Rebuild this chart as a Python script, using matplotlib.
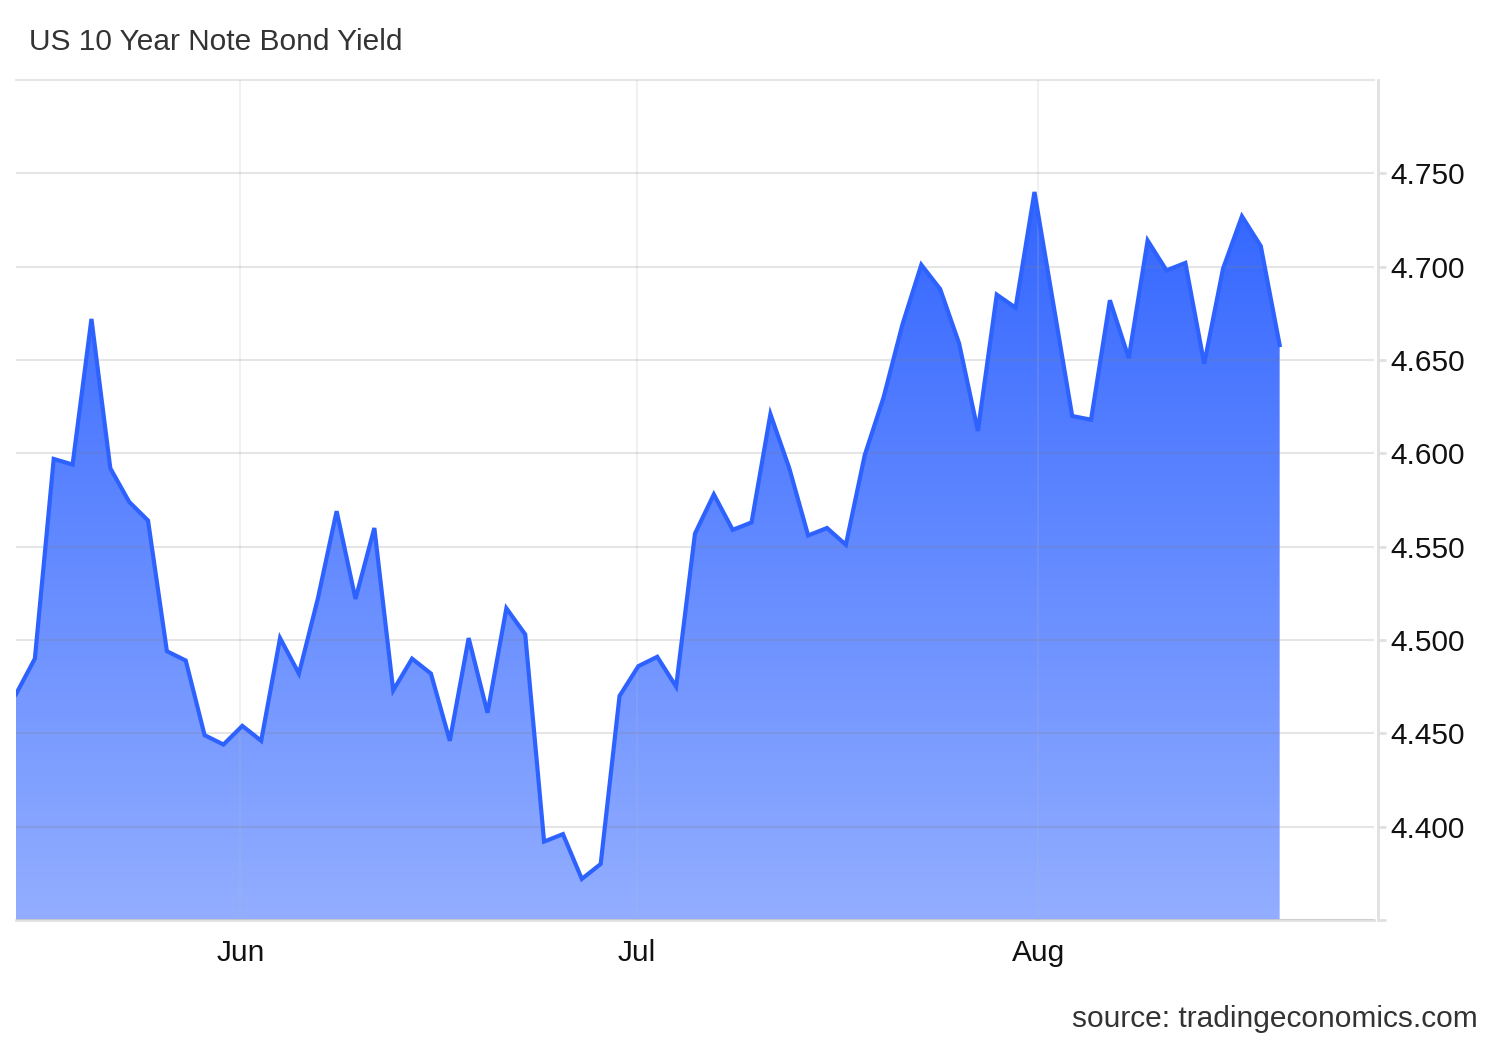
import numpy as np
import matplotlib
matplotlib.use('Agg')
import matplotlib.pyplot as plt
from matplotlib.colors import LinearSegmentedColormap

# daily yields (business days)
yields = [4.471, 4.490, 4.597, 4.594, 4.672, 4.592, 4.574, 4.564, 4.494, 4.489,
          4.449, 4.444, 4.454, 4.446, 4.501, 4.482, 4.522, 4.569, 4.522, 4.560,
          4.473, 4.490, 4.482, 4.446, 4.501, 4.461, 4.517, 4.503, 4.392, 4.396,
          4.372, 4.380, 4.470, 4.486, 4.491, 4.475, 4.557, 4.578, 4.559, 4.563,
          4.621, 4.592, 4.556, 4.560, 4.551, 4.599, 4.630, 4.669, 4.701, 4.688,
          4.659, 4.612, 4.685, 4.678, 4.740, 4.680, 4.620, 4.618, 4.682, 4.651,
          4.714, 4.698, 4.702, 4.648, 4.699, 4.727, 4.711, 4.658]
month_labels = ['Jun', 'Jul', 'Aug']
month_pos = [11.9, 32.9, 54.2]
y_ticks = [4.35, 4.40, 4.45, 4.50, 4.55, 4.60, 4.65, 4.70, 4.75]
y_labels = ['', '4.400', '4.450', '4.500', '4.550', '4.600', '4.650', '4.700', '4.750']

plt.rcParams['font.family'] = ['Liberation Sans', 'DejaVu Sans']

x = np.arange(len(yields))
y = np.array(yields)
y_min, y_max = 4.35, 4.80

fig = plt.figure(figsize=(15, 10.4), dpi=100)
ax = fig.add_axes([0.01067, 0.11538, 0.9053, 0.8077])

# gradient fill clipped to the area under the line
poly = ax.fill_between(x, y, y_min, color='none', lw=0)
cmap = LinearSegmentedColormap.from_list('g', ['#93aeff', '#3366ff'])
grad = np.linspace(0, 1, 256).reshape(-1, 1)
img = ax.imshow(grad, cmap=cmap, origin='lower', aspect='auto',
                extent=[x[0], x[-1], y_min, y.max()], zorder=1)
img.set_clip_path(poly.get_paths()[0], transform=ax.transData)

ax.plot(x, y, color='#2e62ff', lw=3, zorder=4, solid_joinstyle='miter')

ax.set_xlim(0, 72)
ax.set_ylim(y_min, y_max)

ax.yaxis.tick_right()
ax.set_yticks(y_ticks)
ax.set_yticklabels(y_labels)
ax.set_xticks(month_pos)
ax.set_xticklabels(month_labels)
ax.tick_params(axis='x', length=0, pad=14, labelsize=21.5, colors='#111111')
ax.tick_params(axis='y', length=6, width=2, color='#e0e0e0', pad=3,
               labelsize=21.5, labelcolor='#111111')

ax.grid(axis='y', color='#808080', alpha=0.2, lw=1.5, zorder=3)
ax.grid(axis='x', color='#aab8cc', alpha=0.2, lw=1.5, zorder=3)
ax.set_axisbelow(False)

ax.spines['left'].set_visible(False)
ax.spines['top'].set_color('#e6e6e6')
ax.spines['top'].set_linewidth(1.5)
ax.spines['bottom'].set_color('#e0e0e0')
ax.spines['bottom'].set_linewidth(2)
ax.spines['right'].set_color('#e0e0e0')
ax.spines['right'].set_linewidth(2)
ax.spines['right'].set_position(('outward', 3))

fig.text(0.0193, 0.9519, 'US 10 Year Note Bond Yield', fontsize=21.5,
         color='#333333', ha='left', va='baseline')
fig.text(0.9853, 0.0128, 'source: tradingeconomics.com', fontsize=21.5,
         color='#333333', ha='right', va='baseline')

fig.savefig('out.png', dpi=100)
